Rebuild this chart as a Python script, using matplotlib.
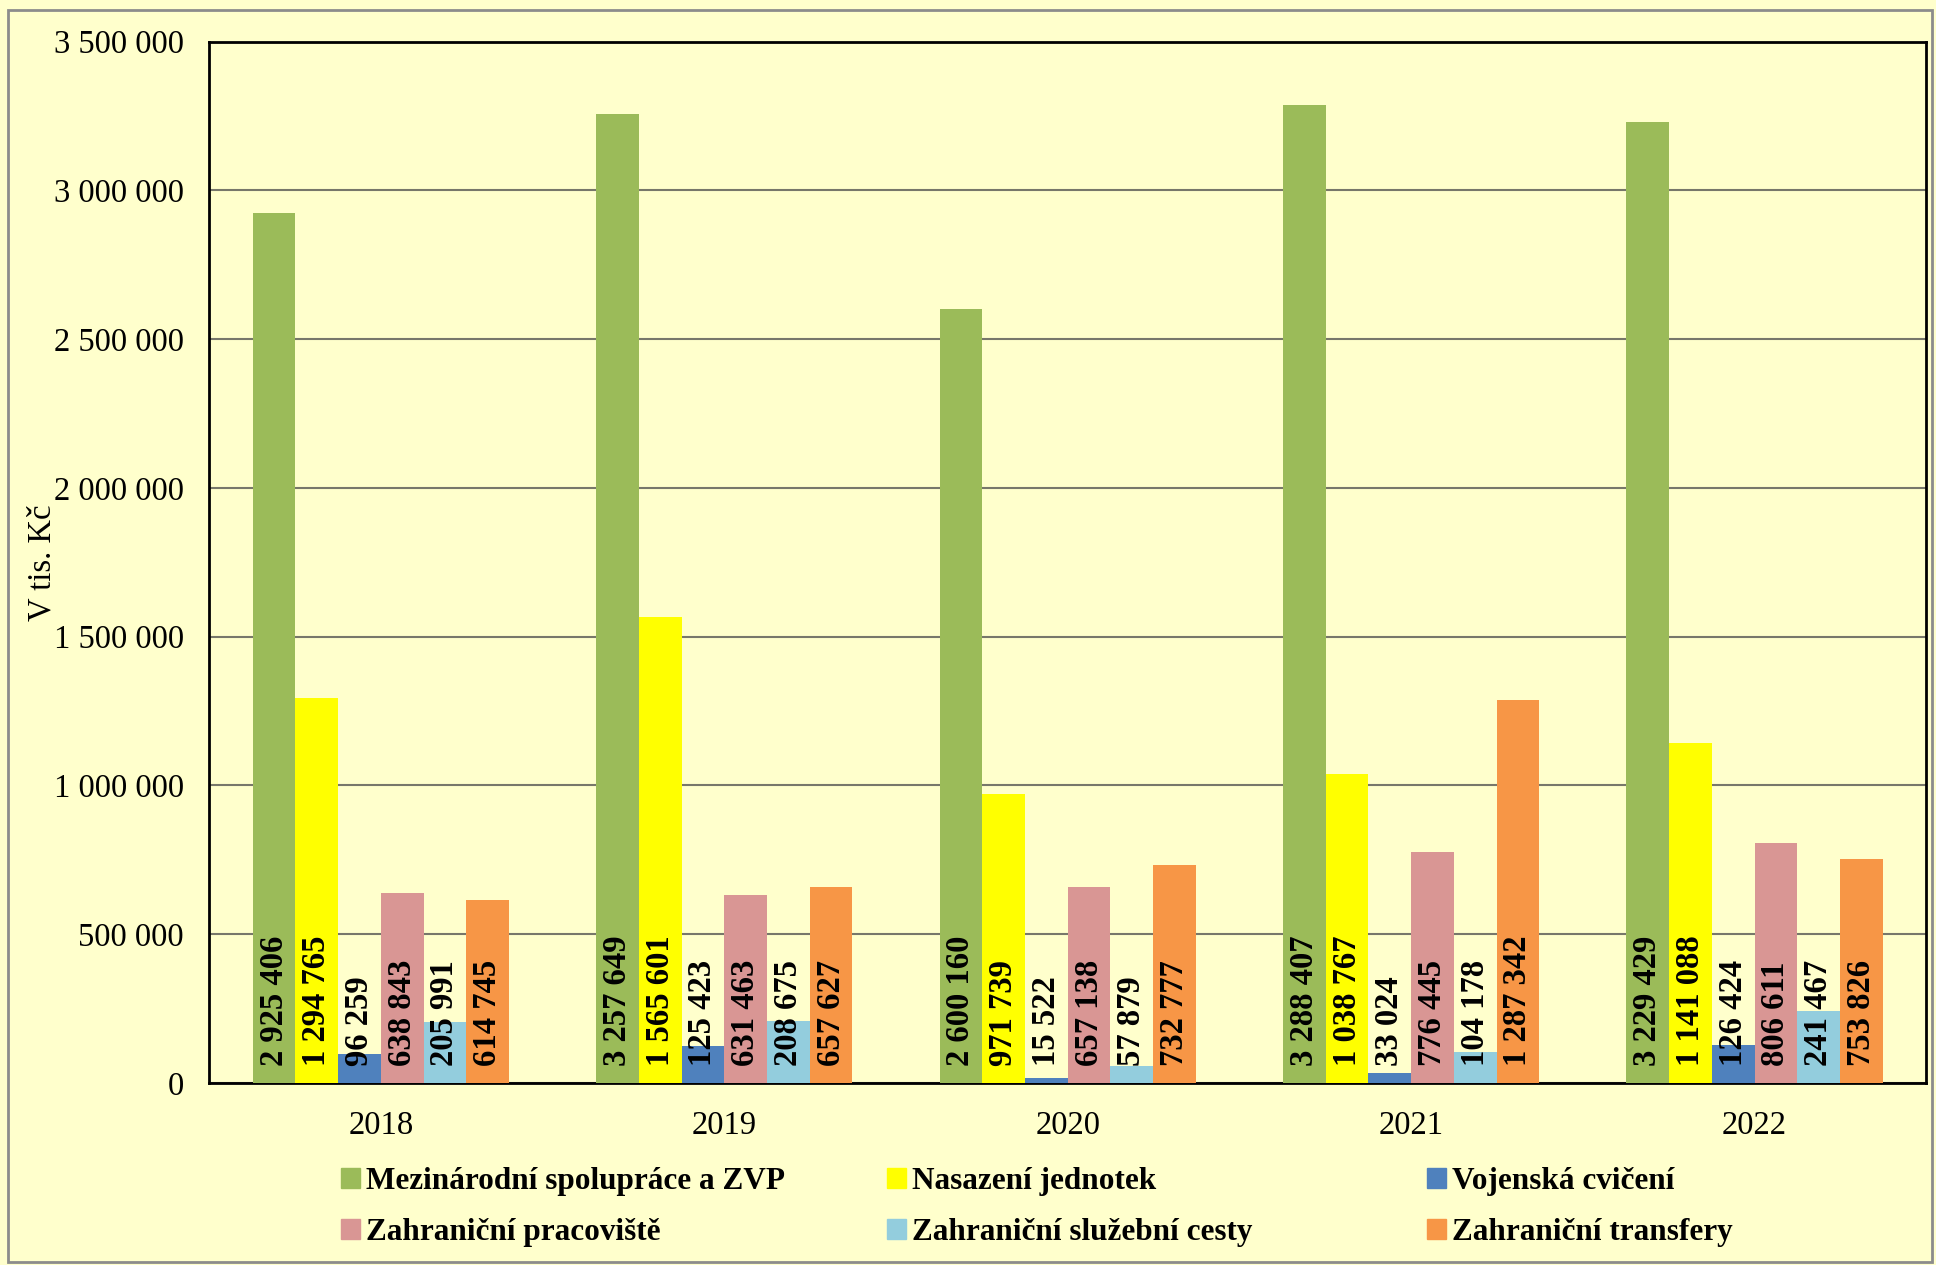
import numpy as np
import matplotlib
matplotlib.use("Agg")
import matplotlib.pyplot as plt
from matplotlib.patches import Rectangle, Patch

plt.rcParams['font.family'] = ['Liberation Serif', 'DejaVu Serif']

years = ['2018', '2019', '2020', '2021', '2022']
series_names = ['Mezinárodní spolupráce a ZVP', 'Nasazení jednotek', 'Vojenská cvičení',
                'Zahraniční pracoviště', 'Zahraniční služební cesty', 'Zahraniční transfery']
colors = ['#9BBB59', '#FFFF00', '#4F81BD', '#D99694', '#93CDDD', '#F79646']

mezinarodni = [2925406, 3257649, 2600160, 3288407, 3229429]
nasazeni = [1294765, 1565601, 971739, 1038767, 1141088]
cviceni = [96259, 125423, 15522, 33024, 126424]
pracoviste = [638843, 631463, 657138, 776445, 806611]
cesty = [205991, 208675, 57879, 104178, 241467]
transfery = [614745, 657627, 732777, 1287342, 753826]
series = [mezinarodni, nasazeni, cviceni, pracoviste, cesty, transfery]


def fmt(v):
    return f"{v:,}".replace(",", " ")


bg = '#FFFFCC'
fig = plt.figure(figsize=(19.36, 12.65), dpi=100, facecolor=bg)
ax = fig.add_axes([0.108, 0.144, 0.887, 0.823])
ax.set_facecolor(bg)

x = np.arange(len(years))
n = len(series)
width = 0.746 / n

for i, (vals, col) in enumerate(zip(series, colors)):
    pos = x + (i - (n - 1) / 2) * width
    ax.bar(pos, vals, width=width, color=col, zorder=3)
    for p, v in zip(pos, vals):
        ax.annotate(fmt(v), (p, 0), xytext=(0, 12), textcoords='offset points',
                    rotation=90, ha='center', va='bottom', fontsize=23.5,
                    fontweight='bold', zorder=4)

ax.set_xlim(-0.5, len(years) - 0.5)
ax.set_ylim(0, 3500000)
ax.set_yticks(np.arange(0, 3500001, 500000))
ax.set_yticklabels([fmt(v) for v in range(0, 3500001, 500000)], fontsize=23.5)
ax.set_xticks(x)
ax.set_xticklabels(years, fontsize=23.5)
ax.tick_params(axis='y', length=0, pad=18)
ax.tick_params(axis='x', length=0, pad=20)
ax.yaxis.grid(True, color='#77776A', linewidth=1.5, zorder=0)
for s in ax.spines.values():
    s.set_linewidth(2)
    s.set_color('black')
ax.set_ylabel('V tis. Kč', fontsize=23.5)
ax.yaxis.set_label_coords(-0.088, 0.5)

# legend, three columns of two entries
col_x = [0.168, 0.450, 0.729]
for c in range(3):
    handles = [Patch(color=colors[c]), Patch(color=colors[c + 3])]
    labels = [series_names[c], series_names[c + 3]]
    fig.legend(handles, labels, loc='center left', bbox_to_anchor=(col_x[c], 0.046),
               frameon=False, prop={'size': 22.5, 'weight': 'bold'},
               handlelength=0.6, handleheight=0.6, handletextpad=0.2,
               labelspacing=0.7, borderpad=0)

# outer border
fig.patches.append(Rectangle((0.004, 0.002), 0.994, 0.99, transform=fig.transFigure,
                             fill=False, edgecolor='#8C8C8C', linewidth=2))

fig.savefig('out.png', dpi=100, facecolor=bg)
